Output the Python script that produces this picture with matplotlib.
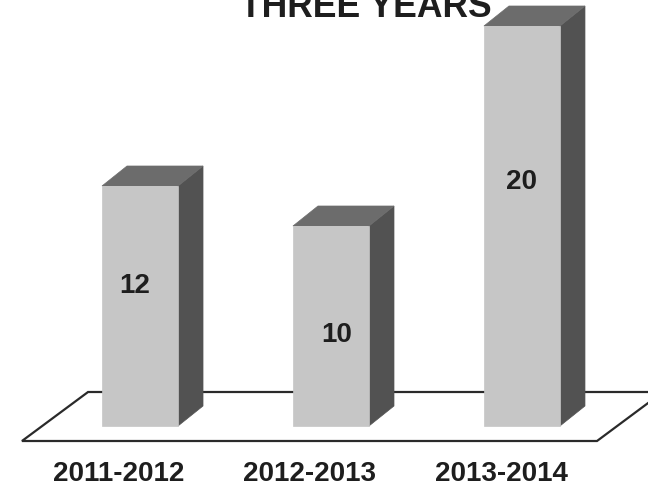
import matplotlib.pyplot as plt
from matplotlib.patches import Polygon

# data
years = ['2011-2012', '2012-2013', '2013-2014']
counts = [12, 10, 20]
label_y = [7.07, 4.6, 12.25]      # where the count sits inside each bar
label_dx = [-0.03, 0.03, 0.0]

title = 'THREE YEARS'

FONT = 'Liberation Sans'
FRONT = '#c6c6c6'
SIDE = '#525252'
TOP = '#6c6c6c'
INK = '#1e1e1e'

# bar geometry (x in category units, y in count units)
W = 0.398          # front face width
DX = 0.131         # depth offset to the right
DY = 1.0           # depth offset upwards

fig = plt.figure(figsize=(6.48, 4.89), dpi=100)
ax = fig.add_axes([0, 0, 1, 1])
ax.set_xlim(-0.733, 2.660)
ax.set_ylim(-3.1, 21.35)
ax.axis('off')

# floor plate
floor = [(-0.618, -0.75), (2.393, -0.75), (2.738, 1.7), (-0.272, 1.7)]
ax.add_patch(Polygon(floor, closed=True, facecolor='white',
                     edgecolor='#2a2a2a', linewidth=1.6, zorder=1))

for i, v in enumerate(counts):
    x0, x1 = i - W / 2, i + W / 2
    front = [(x0, 0), (x1, 0), (x1, v), (x0, v)]
    side = [(x1, 0), (x1 + DX, DY), (x1 + DX, v + DY), (x1, v)]
    top = [(x0, v), (x1, v), (x1 + DX, v + DY), (x0 + DX, v + DY)]
    ax.add_patch(Polygon(side, closed=True, facecolor=SIDE, edgecolor=SIDE,
                         linewidth=0.5, zorder=2))
    ax.add_patch(Polygon(top, closed=True, facecolor=TOP, edgecolor=TOP,
                         linewidth=0.5, zorder=2))
    ax.add_patch(Polygon(front, closed=True, facecolor=FRONT, edgecolor=FRONT,
                         linewidth=0.5, zorder=3))
    ax.text(i + label_dx[i], label_y[i], str(v), ha='center', va='center',
            fontsize=20, fontweight='bold', family=FONT, color=INK, zorder=4)
    ax.text(i - 0.11, -2.72, years[i], ha='center', va='baseline',
            fontsize=20, fontweight='bold', family=FONT, color=INK)

fig.text(366 / 648, 1 - 17 / 489, title, ha='center', va='baseline',
         fontsize=25.6, fontweight='bold', family=FONT, color=INK)

plt.savefig('out.png', dpi=100, facecolor='white')
